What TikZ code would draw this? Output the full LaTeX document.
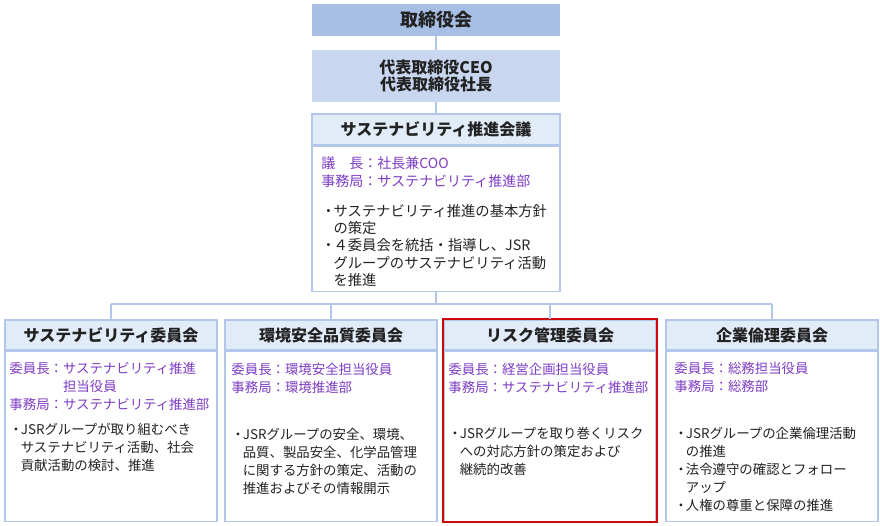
\documentclass[tikz,border=0pt]{standalone}
\usepackage{fontspec}
\usepackage{xcolor}
\usepackage{tikz}

\newfontfamily\jpfont{Noto Sans CJK JP}
\definecolor{boardblue}{HTML}{A7BFE5}
\definecolor{ceoblue}{HTML}{C8D7EF}
\definecolor{headblue}{HTML}{E2ECF8}
\definecolor{lineblue}{HTML}{B2C7E9}
\definecolor{chairpurple}{HTML}{7D3CC4}
\definecolor{riskred}{HTML}{CC0A0A}
\definecolor{textdark}{HTML}{222222}

\newcommand{\bul}{\makebox[0.85em][l]{・}}
\newcommand{\ind}{\hspace*{0.85em}}

\begin{document}
\begin{tikzpicture}[x=1pt,y=-1pt,
    topbox/.style={minimum width=248, minimum height=32, inner sep=0, fill=boardblue,
        text=textdark, font=\jpfont\bfseries\fontsize{18}{20}\selectfont},
    ceobox/.style={minimum width=248, minimum height=52, inner sep=0, fill=ceoblue, align=center,
        text=textdark, font=\jpfont\bfseries\fontsize{16}{17.5}\selectfont},
    headbox/.style={minimum width=212, minimum height=30, inner sep=0, fill=headblue,
        draw=lineblue, line width=1.5, text=textdark, font=\jpfont\bfseries\fontsize{16}{18}\selectfont},
    bodybox/.style={minimum width=212, minimum height=170, inner sep=0, fill=white,
        draw=lineblue, line width=1.5, anchor=north},
    chair/.style={anchor=north west, inner sep=0, align=left, text=chairpurple,
        font=\jpfont\fontsize{13.4}{18}\selectfont},
    duty/.style={anchor=north west, inner sep=0, align=left, text=textdark,
        font=\jpfont\fontsize{13.4}{18}\selectfont},
    link/.style={draw=lineblue, line width=1.6}]

    % Fix the page size
    \useasboundingbox (0,0) rectangle (880,525);

    % Board and CEO
    \node[topbox] (board) at (436,20) {取締役会};
    \node[ceobox] (ceo) at (436,76) {代表取締役CEO\\代表取締役社長};

    % Sustainability promotion meeting
    \node[headbox, minimum width=248, minimum height=31] (mtgh) at (436,129.5) {サステナビリティ推進会議};
    \node[bodybox, minimum width=248, minimum height=145] (mtgb) at (mtgh.south) {};
    \node[chair, font=\jpfont\fontsize{14}{18}\selectfont] (mtgc) at ([shift={(10,10.5)}]mtgb.north west)
        {議　長：社長兼COO\\事務局：サステナビリティ推進部};
    \node[duty, font=\jpfont\fontsize{14.3}{17.2}\selectfont] (mtgd) at ([shift={(10,58.5)}]mtgb.north west)
        {\bul サステナビリティ推進の基本方針\\\ind の策定\\\bul ４委員会を統括・指導し、JSR\\\ind グループのサステナビリティ活動\\\ind を推進};

    % Committees
    \node[headbox] (s1h) at (111,335) {サステナビリティ委員会};
    \node[bodybox] (s1b) at (s1h.south) {};
    \node[chair] (s1c) at ([shift={(5,11)}]s1b.north west)
        {委員長：サステナビリティ推進\\\hspace*{4em}担当役員\\事務局：サステナビリティ推進部};
    \node[duty] (s1d) at ([shift={(5,72)}]s1b.north west)
        {\bul JSRグループが取り組むべき\\\ind サステナビリティ活動、社会\\\ind 貢献活動の検討、推進};

    \node[headbox] (s2h) at (331,335) {環境安全品質委員会};
    \node[bodybox] (s2b) at (s2h.south) {};
    \node[chair] (s2c) at ([shift={(7,12)}]s2b.north west)
        {委員長：環境安全担当役員\\事務局：環境推進部};
    \node[duty] (s2d) at ([shift={(7,77)}]s2b.north west)
        {\bul JSRグループの安全、環境、\\\ind 品質、製品安全、化学品管理\\\ind に関する方針の策定、活動の\\\ind 推進およびその情報開示};

    \node[headbox] (s3h) at (550,335) {リスク管理委員会};
    \node[bodybox] (s3b) at (s3h.south) {};
    \node[chair] (s3c) at ([shift={(5,12)}]s3b.north west)
        {委員長：経営企画担当役員\\事務局：サステナビリティ推進部};
    \node[duty] (s3d) at ([shift={(5,76)}]s3b.north west)
        {\bul JSRグループを取り巻くリスク\\\ind への対応方針の策定および\\\ind 継続的改善};
    \draw[riskred, line width=2] (s3h.north west) rectangle (s3b.south east);

    \node[headbox] (s4h) at (772,335) {企業倫理委員会};
    \node[bodybox] (s4b) at (s4h.south) {};
    \node[chair] (s4c) at ([shift={(9,11)}]s4b.north west)
        {委員長：総務担当役員\\事務局：総務部};
    \node[duty] (s4d) at ([shift={(9,76)}]s4b.north west)
        {\bul JSRグループの企業倫理活動\\\ind の推進\\\bul 法令遵守の確認とフォロー\\\ind アップ\\\bul 人権の尊重と保障の推進};

    % Connectors
    \coordinate (bus) at (436,304);
    \draw[link] (board) -- (ceo);
    \draw[link] (ceo) -- (mtgh);
    \draw[link] (mtgb.south) -- (bus);
    \draw[link] (s1h.north |- bus) -- (s4h.north |- bus);
    \foreach \n in {s1h,s2h,s3h,s4h}
        \draw[link] (\n.north |- bus) -- (\n.north);
\end{tikzpicture}
\end{document}
